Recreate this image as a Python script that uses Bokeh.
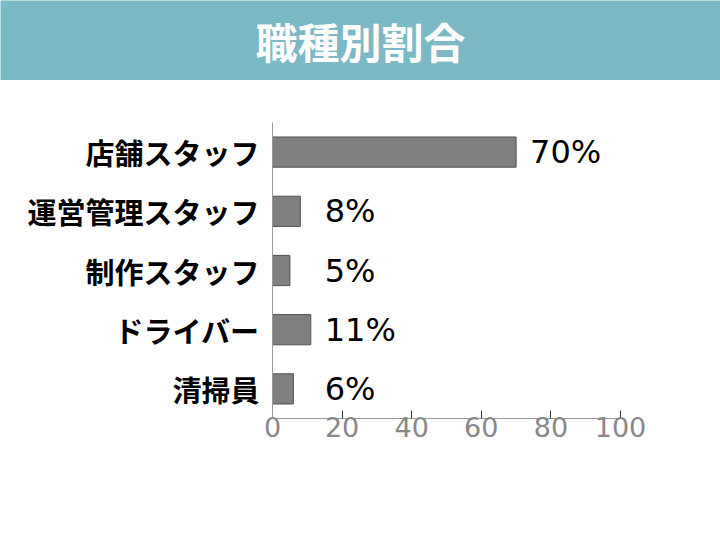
from bokeh.plotting import figure
from bokeh.layouts import column, row
from bokeh.models import ColumnDataSource, FactorRange, Range1d
from bokeh.core.properties import value
from bokeh.embed import file_html
from bokeh.resources import INLINE

title_text = "職種別割合"
categories = ["店舗スタッフ", "運営管理スタッフ", "制作スタッフ", "ドライバー", "清掃員"]
percents = [70, 8, 5, 11, 6]
x_ticks = [0, 20, 40, 60, 80, 100]

BANNER = "#7bb9c6"
W = 720
LEFT, RIGHT = 272, 100

# Banner
banner = figure(width=W, height=80, x_range=Range1d(0, 1), y_range=Range1d(0, 1),
                toolbar_location=None, output_backend="svg", min_border=0,
                min_border_left=0, min_border_right=0, min_border_top=0, min_border_bottom=0)
banner.axis.visible = False
banner.grid.visible = False
banner.outline_line_color = None
banner.background_fill_color = BANNER
banner.border_fill_color = BANNER
banner.text(x=[0.5], y=[0.5], text=[title_text], text_align="center", text_baseline="middle",
            text_color="white", text_font=value("Noto Sans CJK JP"), text_font_style="bold",
            text_font_size="42px")

# Main chart
label_x = [max(v, 11) + 4.0 for v in percents]
src = ColumnDataSource(dict(cat=categories, val=percents, lx=label_x,
                            lab=[f"{v}%" for v in percents]))

p = figure(width=W, height=458, y_range=FactorRange(*reversed(categories), range_padding=0),
           x_range=Range1d(0, 100), toolbar_location=None, output_backend="svg",
           min_border_left=LEFT, min_border_right=RIGHT, min_border_top=42, min_border_bottom=120)
p.outline_line_color = None
p.grid.visible = False
p.background_fill_color = "white"
p.border_fill_color = "white"

p.hbar(y="cat", right="val", left=0, height=0.51, source=src,
       fill_color="#808080", line_color="#505050", line_width=1)
p.text(x="lx", y="cat", text="lab", source=src, text_baseline="middle", text_align="left",
       text_font=value("DejaVu Sans"), text_font_size="32px", text_color="black")

p.xaxis.ticker = x_ticks
p.xaxis.axis_line_color = "#999999"
p.xaxis.major_tick_line_color = "#333333"
p.xaxis.major_tick_in = 8
p.xaxis.major_tick_out = 0
p.xaxis.minor_tick_line_color = None
p.xaxis.major_label_text_color = "#888888"
p.xaxis.major_label_text_font = "DejaVu Sans"
p.xaxis.major_label_text_font_size = "27px"
p.xaxis.major_label_standoff = -2

p.yaxis.axis_line_color = "#999999"
p.yaxis.major_tick_line_color = None
p.yaxis.minor_tick_line_color = None
p.yaxis.major_label_text_color = "black"
p.yaxis.major_label_text_font = "Noto Sans CJK JP"
p.yaxis.major_label_text_font_style = "bold"
p.yaxis.major_label_text_font_size = "29px"
p.yaxis.major_label_standoff = 7

layout = column(row(banner, spacing=0), p, spacing=0)
open("out.html", "w").write(file_html(layout, INLINE))
